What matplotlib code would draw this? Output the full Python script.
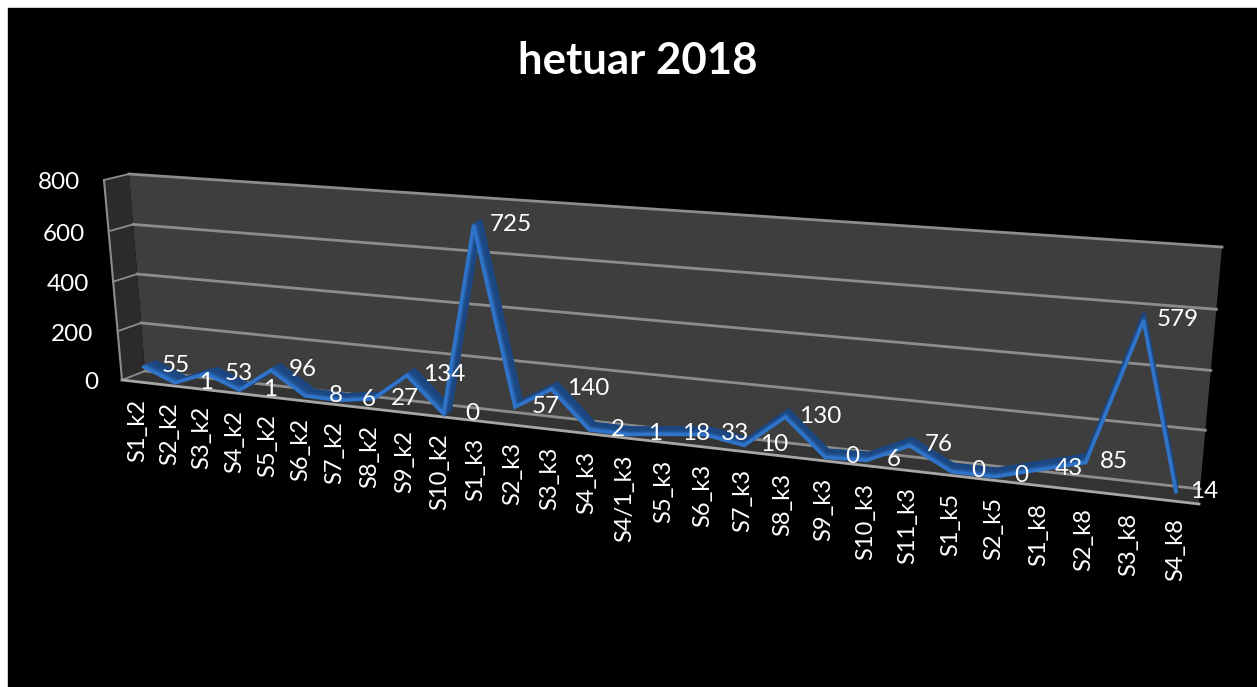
import numpy as np
import matplotlib
matplotlib.use("Agg")
import matplotlib.pyplot as plt
from matplotlib.transforms import Transform
from matplotlib.patches import Rectangle

plt.rcParams['font.family'] = ['Lato', 'DejaVu Sans']

categories = ["S1_k2", "S2_k2", "S3_k2", "S4_k2", "S5_k2", "S6_k2", "S7_k2", "S8_k2", "S9_k2", "S10_k2",
              "S1_k3", "S2_k3", "S3_k3", "S4_k3", "S4/1_k3", "S5_k3", "S6_k3", "S7_k3", "S8_k3", "S9_k3",
              "S10_k3", "S11_k3", "S1_k5", "S2_k5", "S1_k8", "S2_k8", "S3_k8", "S4_k8"]
values = [55, 1, 53, 1, 96, 8, 6, 27, 134, 0,
          725, 57, 140, 2, 1, 18, 33, 10, 130, 0,
          6, 76, 0, 0, 43, 85, 579, 14]
y_ticks = [0, 200, 400, 600, 800]
title = "hetuar 2018"


def homography(src, dst):
    # plain DLT, 4 point pairs
    rows = []
    for (x, y), (u, v) in zip(src, dst):
        rows.append([x, y, 1, 0, 0, 0, -u * x, -u * y, -u])
        rows.append([0, 0, 0, x, y, 1, -v * x, -v * y, -v])
    return np.linalg.svd(np.array(rows, dtype=float))[2][-1].reshape(3, 3)


n = len(categories)
corners = [(0, 800), (0, 0), (n, 800), (n, 0)]
H_back = homography(corners, [(129, 174), (145, 371), (1222, 247), (1200, 489)])
H_front = homography(corners, [(104, 180), (122, 380), (1222, 262), (1199, 504)])


class DepthTransform(Transform):
    # (category, value) -> pixel, pos 0 is the back wall, 1 the front edge
    input_dims = 2
    output_dims = 2

    def __init__(self, pos):
        super().__init__()
        self.pos = pos

    def _apply(self, H, pts):
        p = np.c_[pts, np.ones(len(pts))] @ H.T
        return p[:, :2] / p[:, 2:]

    def transform_non_affine(self, values):
        pts = np.asarray(values, dtype=float)
        return (1 - self.pos) * self._apply(H_back, pts) + self.pos * self._apply(H_front, pts)


fig = plt.figure(figsize=(12.57, 6.87), dpi=100, facecolor="white")
ax = fig.add_axes([0, 0, 1, 1])
ax.set_xlim(0, 1257)
ax.set_ylim(687, 0)
ax.axis("off")
ax.add_patch(Rectangle((8, 8), 1249, 679, color="black", zorder=0))

back = DepthTransform(0) + ax.transData
front = DepthTransform(1) + ax.transData
to_back = DepthTransform(0)
to_front = DepthTransform(1)

# walls
ax.fill([0, 0, n, n], [0, 800, 800, 0], color="#3e3e3e", lw=0, transform=back, zorder=1)
side = np.vstack([to_front.transform([(0, 0), (0, 800)]), to_back.transform([(0, 800), (0, 0)])])
ax.fill(side[:, 0], side[:, 1], color="#2b2b2b", lw=0, zorder=1)
floor = np.vstack([to_front.transform([(0, 0), (n, 0)]), to_back.transform([(n, 0), (0, 0)])])
ax.fill(floor[:, 0], floor[:, 1], color="#333333", lw=0, zorder=1)

# gridlines and frame
grid_col = "#8c8c8c"
for t in y_ticks:
    ax.plot([0, n], [t, t], color=grid_col, lw=2.0, transform=back, zorder=2)
    a, b = to_front.transform([(0, t)])[0], to_back.transform([(0, t)])[0]
    ax.plot([a[0], b[0]], [a[1], b[1]], color=grid_col, lw=1.3, zorder=2)
    ax.text(a[0] - 24, a[1] + 3, str(t), color="white", fontsize=17.5, ha="right", va="center", zorder=5)
ax.plot([0, 0], [0, 800], color=grid_col, lw=1.5, transform=front, zorder=2)
ax.plot([0, n], [0, 0], color="#a6a6a6", lw=2.0, transform=front, zorder=2)

# ribbon, back to front
xs = np.arange(n) + 0.5
depths = np.linspace(0.2, 0.75, 12)
dark = np.array([0x1c, 0x46, 0x80]) / 255
light = np.array([0x2f, 0x74, 0xc8]) / 255
for i, d in enumerate(depths):
    frac = (i / (len(depths) - 1)) ** 4
    ax.plot(xs, values, color=dark + (light - dark) * frac, lw=2.4, solid_joinstyle="miter",
            solid_capstyle="butt", transform=DepthTransform(d) + ax.transData, zorder=3)

# data labels sit right of the point, further out for wider numbers
label_shift = {1: 26, 2: 28, 3: 34}
mid_px = DepthTransform(0.5).transform(np.c_[xs, values])
base_px = to_front.transform(np.c_[xs, np.zeros(n)])
for (px, py), val in zip(mid_px, values):
    ax.text(px + label_shift[len(str(val))], py + 2, str(val), color="white", fontsize=17.5,
            ha="center", va="center", zorder=5)
for (px, py), cat in zip(base_px, categories):
    ax.text(px, py + 17, cat, color="white", fontsize=17, rotation=90, ha="center", va="top", zorder=5)

ax.text(638, 61, title, color="white", fontsize=31.5, fontweight="bold", ha="center", va="center", zorder=5)

fig.savefig("out.png", dpi=100, facecolor=fig.get_facecolor())
